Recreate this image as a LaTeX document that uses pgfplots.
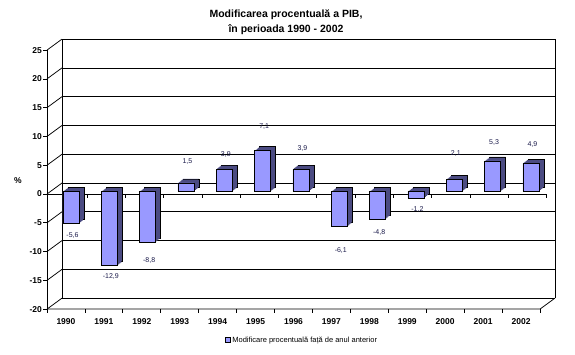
\documentclass[border=0pt]{standalone}
\usepackage{fontspec}
\setmainfont{Liberation Sans}
\usepackage{pgfplots}
\pgfplotsset{compat=1.18}
\usepackage{pgfplotstable}
\definecolor{barfront}{HTML}{9999FF}
\definecolor{barside}{HTML}{4B4B82}
\definecolor{lblcol}{HTML}{1A1A4A}

\pgfplotstableread{
x y off lbl
0 -5.6 -12 -5,6
1 -12.9 -11 -12,9
2 -8.8 -18 -8,8
3 1.5 21 1,5
4 3.9 15 3,9
5 7.1 24 7,1
6 3.9 21 3,9
7 -6.1 -24 -6,1
8 -4.8 -13 -4,8
9 -1.2 -11 -1,2
10 2.1 26 2,1
11 5.3 18 5,3
12 4.9 19 4,9
}\gdp

\begin{document}
\begin{tikzpicture}
\path[use as bounding box] (0pt,0pt) rectangle (575pt,354pt);
% frame in pixel coordinates (y downward)
\begin{scope}[shift={(0pt,354pt)}, x=1pt, y=-1pt, line width=0.75pt]
  \foreach \v in {-20,-15,...,25} {
    \pgfmathsetmacro\yf{194-5.756*\v}
    \pgfmathsetmacro\yb{\yf-11}
    \draw (62,\yb) -- (555,\yb);
    \draw (47,\yf) -- (62,\yb);
    \draw (43,\yf) -- (47,\yf);
  }
  \draw (62,39.1) -- (62,298.1);
  \draw (555,39.1) -- (555,298.1);
  \draw (47,50.1) -- (47,309.1);
  \draw (47,309.1) -- (540,309.1) -- (555,298.1);
  \foreach \k in {0,...,13} { \draw (47+37.92*\k,309.1) -- ++(0,4); }
  \draw (47,194) -- (546.6,194);
  \foreach \k in {1,...,13} { \draw (48.7+38.3*\k,194) -- ++(0,4); }
  \node[font=\bfseries\fontsize{10.5}{12}\selectfont] at (286,15) {Modificarea procentuală a PIB,};
  \node[font=\bfseries\fontsize{10.5}{12}\selectfont] at (286,30) {în perioada 1990 - 2002};
  \node[font=\bfseries\fontsize{8.5}{9}\selectfont] at (18,181) {\%};
\end{scope}

\begin{axis}[
  at={(47pt,44.9pt)}, anchor=south west,
  scale only axis, width=493pt, height=259pt,
  xmin=-0.5, xmax=12.5, ymin=-20, ymax=25,
  xtick={0,...,12},
  xticklabels={1990,1991,1992,1993,1994,1995,1996,1997,1998,1999,2000,2001,2002},
  ytick={-20,-15,...,25},
  axis line style={draw=none}, tick style={draw=none},
  /pgf/number format/assume math mode=true,
  yticklabel style={anchor=east, inner sep=0pt, xshift=-5pt, font=\bfseries\fontsize{8.5}{9}\selectfont},
  xticklabel style={anchor=center, inner sep=0pt, yshift=-12pt, font=\bfseries\fontsize{8.5}{9}\selectfont},
]
\end{axis}

\begin{axis}[
  at={(51.8pt,47.4pt)}, anchor=south west,
  scale only axis, width=498.3pt, height=259pt,
  xmin=-0.5, xmax=12.5, ymin=-20, ymax=25,
  hide axis, clip=false,
  legend style={at={(0.502,-0.129)}, anchor=center, draw=none, fill=none,
    font=\fontsize{7.5}{8}\selectfont, inner sep=0pt},
  legend image code/.code={\draw[fill=barfront, draw=black, line width=0.5pt] (0pt,-2.5pt) rectangle (5pt,2.5pt);},
]
\addplot[ybar, bar width=16pt, bar shift=0pt, fill=barside, draw=black, line width=0.6pt, xshift=5pt, yshift=4pt, forget plot] table[x=x,y=y]{\gdp};
\addplot[ybar, bar width=16pt, bar shift=0pt, fill=barside, draw=none, xshift=4pt, yshift=3.2pt, forget plot] table[x=x,y=y]{\gdp};
\addplot[ybar, bar width=16pt, bar shift=0pt, fill=barside, draw=none, xshift=3pt, yshift=2.4pt, forget plot] table[x=x,y=y]{\gdp};
\addplot[ybar, bar width=16pt, bar shift=0pt, fill=barside, draw=none, xshift=2pt, yshift=1.6pt, forget plot] table[x=x,y=y]{\gdp};
\addplot[ybar, bar width=16pt, bar shift=0pt, fill=barside, draw=none, xshift=1pt, yshift=0.8pt, forget plot] table[x=x,y=y]{\gdp};
\addplot[ybar, bar width=16pt, bar shift=0pt, fill=barfront, draw=black, line width=0.6pt,
  nodes near coords, point meta=explicit symbolic,
  visualization depends on={\thisrow{off} \as \off},
  every node near coord/.append style={anchor=center, yshift=\off pt, xshift=1.5pt,
    font=\fontsize{7}{8}\selectfont, text=lblcol, inner sep=0pt},
] table[x=x,y=y,meta=lbl]{\gdp};
\addlegendentry{Modificare procentuală față de anul anterior}
\end{axis}
\end{tikzpicture}
\end{document}
